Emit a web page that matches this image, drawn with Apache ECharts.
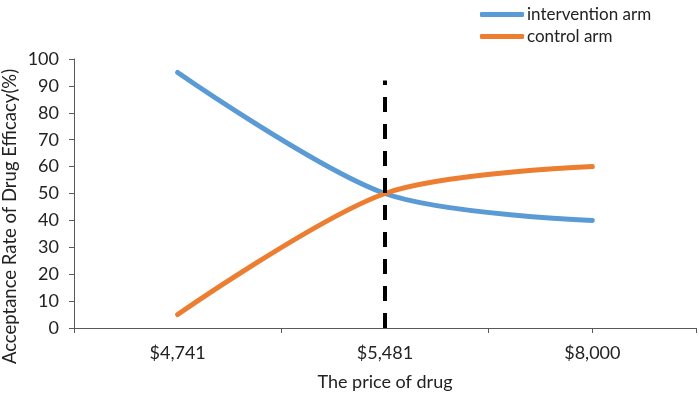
<!DOCTYPE html>
<html>
<head>
<meta charset="utf-8">
<script src="https://cdn.jsdelivr.net/npm/echarts@6/dist/echarts.min.js"></script>
<style>
  html, body { margin: 0; padding: 0; background: #fff; }
  #chart { width: 699px; height: 395px; }
</style>
</head>
<body>
<div id="chart"></div>
<script>
var prices = ['$4,741', '$5,481', '$8,000'];
var interventionArm = [95, 50, 40];
var controlArm = [5, 50, 60];
var cutoffTop = 92;
var extraTicks = [0, 1, 2, 2.5, 3];

var font = 'Lato';
var chart = echarts.init(document.getElementById('chart'));

var option = {
    animation: false,
    textStyle: { fontFamily: font },
    color: ['#5B9BD5', '#ED7D31'],
    legend: {
        orient: 'vertical',
        left: 475,
        top: 1,
        itemGap: 5,
        itemWidth: 44,
        itemHeight: 5,
        icon: 'roundRect',
        textStyle: { fontSize: 17, color: '#222', fontFamily: font, padding: [0, 0, 0, -2] },
        data: ['intervention arm', 'control arm']
    },
    grid: { left: 74, right: 3, top: 59, bottom: 67, outerBoundsMode: 'none' },
    xAxis: [
        {
            type: 'category',
            data: prices,
            boundaryGap: true,
            name: 'The price of drug',
            nameLocation: 'middle',
            nameMoveOverlap: false,
            nameGap: 45,
            nameTextStyle: { fontSize: 18, color: '#222' },
            axisLine: { lineStyle: { color: '#595959', width: 1 } },
            axisTick: { show: false },
            axisLabel: { fontSize: 18, color: '#222', margin: 16 }
        },
        {
            type: 'value',
            min: 0,
            max: 3,
            position: 'bottom',
            axisLine: { show: false },
            splitLine: { show: false },
            axisLabel: { show: false },
            axisTick: {
                show: true,
                inside: false,
                length: 5,
                customValues: extraTicks,
                lineStyle: { color: '#595959' }
            }
        }
    ],
    yAxis: {
        type: 'value',
        min: 0,
        max: 100,
        interval: 10,
        name: 'Acceptance Rate of Drug Efficacy(%)',
        nameLocation: 'middle',
        nameMoveOverlap: false,
        nameGap: 54,
        nameTextStyle: { fontSize: 18.5, color: '#222', padding: [0, 46, 0, 0] },
        axisLine: { show: true, lineStyle: { color: '#595959', width: 1 } },
        axisTick: { show: true, length: 5, lineStyle: { color: '#595959' } },
        splitLine: { show: false },
        axisLabel: { fontSize: 18, color: '#222', margin: 15 }
    },
    series: [
        {
            name: 'intervention arm',
            type: 'line',
            data: interventionArm,
            smooth: 0.3,
            showSymbol: false,
            lineStyle: { width: 5, cap: 'round' },
            z: 3
        },
        {
            name: 'control arm',
            type: 'line',
            data: controlArm,
            smooth: 0.3,
            showSymbol: false,
            lineStyle: { width: 5, cap: 'round' },
            z: 4,
            markLine: {
                silent: true,
                symbol: ['none', 'none'],
                label: { show: false },
                lineStyle: { color: '#000', type: [15, 12], width: 4 },
                data: [[
                    { coord: [prices[1], 0] },
                    { coord: [prices[1], cutoffTop] }
                ]],
                z: 5
            }
        }
    ]
};

chart.setOption(option);
</script>
</body>
</html>
